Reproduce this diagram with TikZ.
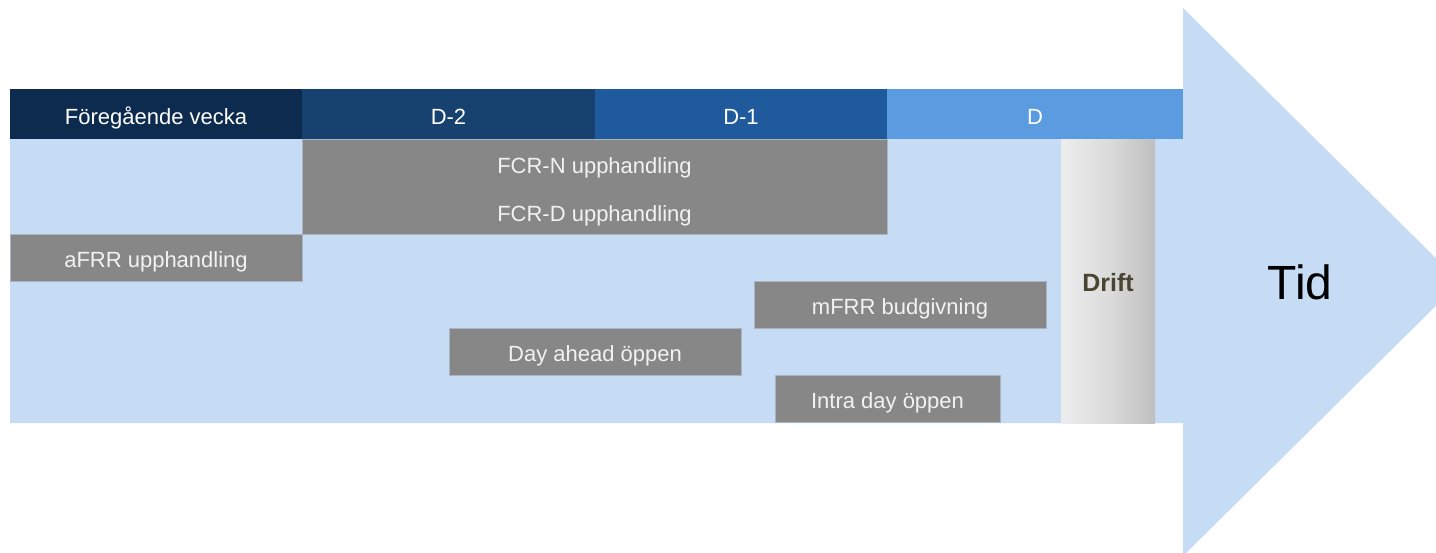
\documentclass[tikz,border=0pt]{standalone}
\usepackage{fontspec}
\setmainfont{Liberation Sans}
\usepackage{tikz}
\definecolor{bodyblue}{HTML}{C6DCF4}
\definecolor{hdrA}{HTML}{0D2B4E}
\definecolor{hdrB}{HTML}{17416F}
\definecolor{hdrC}{HTML}{1F5A9C}
\definecolor{hdrD}{HTML}{5B9BDF}
\definecolor{boxgray}{HTML}{878787}
\definecolor{boxedge}{HTML}{A9B3C2}
\definecolor{drifttext}{HTML}{4A4530}

\begin{document}
\begin{tikzpicture}[x=1pt,y=-1pt,
    hdr/.style={inner sep=0pt,minimum height=50,text=white,font=\fontsize{22}{24}\selectfont},
    gbox/.style={fill=boxgray,draw=boxedge,line width=0.6pt,inner sep=0pt,minimum height=47},
    glabel/.style={text=white!95!black,inner sep=0pt,text height=16pt,text depth=0pt,yshift=-2pt,font=\fontsize{22}{24}\selectfont}]
          \useasboundingbox (0,0) rectangle (1436,552);
          \clip (0,0) rectangle (1436,552);
          \fill[bodyblue] (10,89) -- (1183,89) -- (1183,8) -- (1460,282) -- (1183,556) -- (1183,423) -- (10,423) -- cycle;
          \node[hdr,fill=hdrA,minimum width=292] (prevweek) at (156,114) {};
          \node[hdr,fill=hdrB,minimum width=293] (dtwo) at (448.5,114) {};
          \node[hdr,fill=hdrC,minimum width=292] (done) at (741,114) {};
          \node[hdr,fill=hdrD,minimum width=296] (dday) at (1035,114) {};
          \node[glabel,text=white] at (prevweek) {Föregående vecka};
          \node[glabel,text=white] at (dtwo) {D-2};
          \node[glabel,text=white] at (done) {D-1};
          \node[glabel,text=white] at (dday) {D};
          \node[gbox,minimum width=585,minimum height=95] (fcr) at (594.5,186.5) {};
          \node[glabel] (fcrn) at (594.5,163) {FCR-N upphandling};
          \node[glabel] (fcrd) at (594.5,211) {FCR-D upphandling};
          \node[gbox,minimum width=292] (afrr) at (156,257.5) {};
          \node[glabel] at (afrr) {aFRR upphandling};
          \node[gbox,minimum width=292] (mfrr) at (900,304.5) {};
          \node[glabel] at (mfrr) {mFRR budgivning};
          \node[gbox,minimum width=292] (dayahead) at (595,351.5) {};
          \node[glabel] at (dayahead) {Day ahead öppen};
          \node[gbox,minimum width=225] (intraday) at (887.5,398.5) {};
          \node[glabel] at (intraday) {Intra day öppen};
          \node[left color=gray!14,right color=gray!50,middle color=gray!28,inner sep=0pt,minimum width=94,minimum height=284] (drift) at (1108,281) {};
          \node[text=drifttext,inner sep=0pt,text height=18pt,text depth=0pt,yshift=-1.5pt,font=\fontsize{25}{28}\selectfont\bfseries] (driftlabel) at (drift.center) {Drift};
          \node[font=\fontsize{48}{52}\selectfont] (tid) at (1300,282) {Tid};
\end{tikzpicture}
\end{document}
